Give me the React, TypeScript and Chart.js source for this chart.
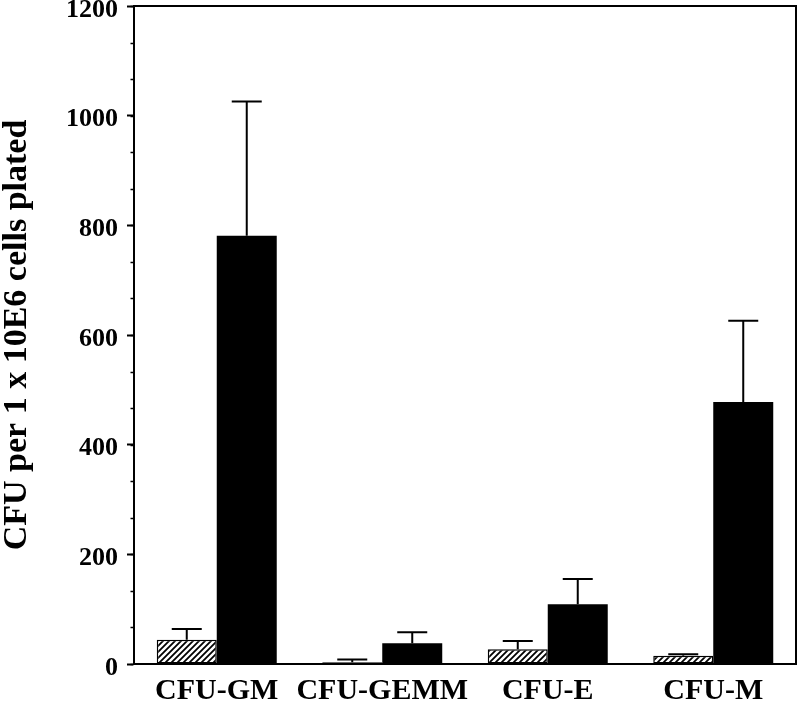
import React, { useEffect, useRef } from 'react';
import { Chart, registerables } from 'chart.js';

Chart.register(...registerables);

const categories = ['CFU-GM', 'CFU-GEMM', 'CFU-E', 'CFU-M'];
const controlValues = [44, 3, 27, 15];
const controlErrors = [20, 5, 15, 3];
const treatedValues = [781, 38, 109, 478];
const treatedErrors = [245, 20, 46, 148];
const yTickValues = [0, 200, 400, 600, 800, 1000, 1200];
const yMinorStep = 200 / 3;
const yTitle = 'CFU per 1 x 10E6 cells plated';

const FONT = '"Liberation Serif", "Times New Roman", serif';

function makeHatch(): CanvasPattern | string {
  const s = 6;
  const c = document.createElement('canvas');
  c.width = s;
  c.height = s;
  const g = c.getContext('2d');
  if (!g) return '#fff';
  g.fillStyle = '#fff';
  g.fillRect(0, 0, s, s);
  g.strokeStyle = '#000';
  g.lineWidth = 1.8;
  g.beginPath();
  g.moveTo(-1, s + 1);
  g.lineTo(s + 1, -1);
  g.moveTo(-1, 1);
  g.lineTo(1, -1);
  g.moveTo(s - 1, s + 1);
  g.lineTo(s + 1, s - 1);
  g.stroke();
  const p = g.createPattern(c, 'repeat');
  return p || '#fff';
}

const errorBarPlugin = {
  id: 'errorBars',
  afterDatasetsDraw(chart: any) {
    const ctx = chart.ctx;
    const y = chart.scales.y;
    chart.data.datasets.forEach((ds: any, i: number) => {
      const meta = chart.getDatasetMeta(i);
      const errs: number[] = ds.errors || [];
      meta.data.forEach((bar: any, j: number) => {
        const v = ds.data[j] as number;
        const e = errs[j] || 0;
        const top = y.getPixelForValue(v + e);
        const x = bar.x;
        const half = bar.width / 4;
        ctx.save();
        ctx.strokeStyle = '#000';
        ctx.lineWidth = 2;
        ctx.beginPath();
        ctx.moveTo(x, bar.y);
        ctx.lineTo(x, top);
        ctx.moveTo(x - half, top);
        ctx.lineTo(x + half, top);
        ctx.stroke();
        ctx.restore();
      });
    });
  },
};

const framePlugin = {
  id: 'frame',
  afterDraw(chart: any) {
    const ctx = chart.ctx;
    const a = chart.chartArea;
    const y = chart.scales.y;
    ctx.save();
    ctx.strokeStyle = '#000';
    ctx.lineWidth = 2;
    ctx.beginPath();
    ctx.moveTo(a.left - 1, a.top);
    ctx.lineTo(a.right, a.top);
    ctx.lineTo(a.right, a.bottom + 1);
    ctx.stroke();
    ctx.lineWidth = 1.5;
    ctx.beginPath();
    for (let v = 0; v <= y.max + 1e-6; v += yMinorStep) {
      const py = Math.round(y.getPixelForValue(v)) + 0.5;
      ctx.moveTo(a.left - 3.5, py);
      ctx.lineTo(a.left, py);
    }
    ctx.stroke();
    ctx.restore();
  },
};

export default function App() {
  const ref = useRef<HTMLCanvasElement | null>(null);

  useEffect(() => {
    if (!ref.current) return;
    const hatch = makeHatch();
    const chart = new Chart(ref.current, {
      type: 'bar',
      data: {
        labels: categories,
        datasets: [
          {
            label: 'Control',
            data: controlValues,
            errors: controlErrors,
            backgroundColor: hatch,
            borderColor: '#000',
            borderWidth: 1.5,
            borderSkipped: false,
            categoryPercentage: 0.725,
            barPercentage: 1.0,
          } as any,
          {
            label: 'Treated',
            data: treatedValues,
            errors: treatedErrors,
            backgroundColor: '#000',
            borderColor: '#000',
            borderWidth: 0,
            categoryPercentage: 0.725,
            barPercentage: 1.0,
          } as any,
        ],
      },
      options: {
        animation: false,
        responsive: false,
        maintainAspectRatio: false,
        layout: { padding: { top: 6, right: 4, bottom: 0, left: 0 } },
        plugins: {
          legend: { display: false },
          tooltip: { enabled: false },
        },
        scales: {
          x: {
            offset: true,
            grid: { display: false, drawTicks: false },
            border: { display: true, color: '#000', width: 2 },
            ticks: {
              color: '#000',
              padding: 9,
              font: { family: FONT, size: 30, weight: 'bold' },
              maxRotation: 0,
              autoSkip: false,
            },
            afterFit: (s: any) => {
              s.height = 40;
              s.paddingLeft = 0;
              s.paddingRight = 0;
            },
          },
          y: {
            min: 0,
            max: 1200,
            grid: {
              drawOnChartArea: false,
              drawTicks: true,
              tickLength: 7,
              tickWidth: 2,
              tickColor: '#000',
            },
            border: { display: true, color: '#000', width: 2 },
            afterBuildTicks: (s: any) => {
              s.ticks = yTickValues.map((v) => ({ value: v }));
            },
            ticks: {
              color: '#000',
              padding: 9,
              labelOffset: 4,
              font: { family: FONT, size: 26, weight: 'bold' },
              callback: (v: any) => String(v),
            },
            title: {
              display: true,
              text: yTitle,
              color: '#000',
              padding: 0,
              font: { family: FONT, size: 34, weight: 'bold', lineHeight: 1 },
            },
            afterFit: (s: any) => {
              s.width = 134;
              s.paddingTop = 0;
              s.paddingBottom = 0;
            },
          },
        },
      },
      plugins: [errorBarPlugin, framePlugin],
    } as any);
    return () => chart.destroy();
  }, []);

  return (
    <div style={{ position: 'fixed', left: 0, top: 0, width: 800, height: 704, background: '#fff' }}>
      <canvas ref={ref} width={800} height={704} style={{ display: 'block', width: 800, height: 704 }} />
    </div>
  );
}
